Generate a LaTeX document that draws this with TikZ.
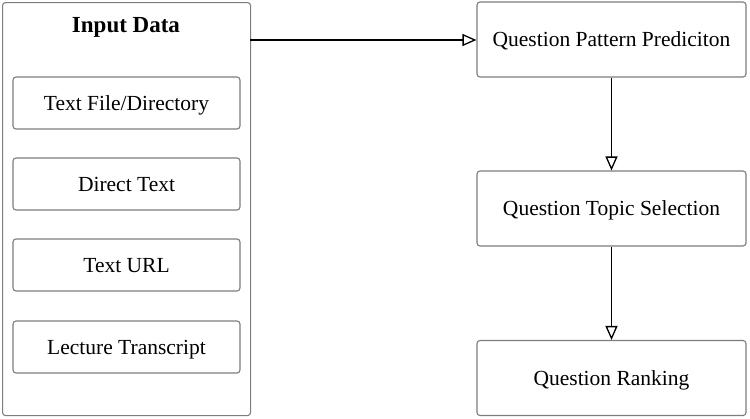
\documentclass[tikz,border=0pt]{standalone}
\usepackage{fontspec}
\setmainfont{Liberation Serif}
\usetikzlibrary{arrows.meta}
\definecolor{bordergray}{RGB}{125,125,125}
\tikzset{
  box/.style={draw=bordergray, line width=1.1pt, rounded corners=3pt, fill=white},
  lbl/.style={font=\fontsize{21.5}{24}\selectfont, text=black, text height=18pt, text depth=4pt},
  conn/.style={draw=black, line width=1.5pt, -{Triangle[open, length=14pt, width=12pt, line width=1.3pt]}}
}
\begin{document}
\begin{tikzpicture}[x=1pt, y=-1pt]
\useasboundingbox (0,0) rectangle (750,418);
% outer container
\node[box, minimum width=248pt, minimum height=413pt, anchor=north west, inner sep=0pt] (input) at (2,2) {};
\node[font=\bfseries\fontsize{23}{26}\selectfont] (title) at (126,27.5) {Input Data};
\node[box, lbl, minimum width=227pt, minimum height=52pt, inner sep=0pt] (f1) at (126.5,103) {Text File/Directory};
\node[box, lbl, minimum width=227pt, minimum height=52pt, inner sep=0pt] (f2) at (126.5,184) {Direct Text};
\node[box, lbl, minimum width=227pt, minimum height=52pt, inner sep=0pt] (f3) at (126.5,265) {Text URL};
\node[box, lbl, minimum width=227pt, minimum height=52pt, inner sep=0pt] (f4) at (126.5,347) {Lecture Transcript};
% right pipeline
\node[box, lbl, minimum width=269pt, minimum height=75pt, inner sep=0pt] (p1) at (611.5,39.5) {Question Pattern Prediciton};
\node[box, lbl, minimum width=269pt, minimum height=75pt, inner sep=0pt] (p2) at (611.5,208.5) {Question Topic Selection};
\node[box, lbl, minimum width=269pt, minimum height=75pt, inner sep=0pt] (p3) at (611.5,378) {Question Ranking};
% connectors
\coordinate (s1) at (250,40);
\draw[conn] (s1) -- (p1.west |- s1);
\draw[conn] (p1.south) -- (p2.north);
\draw[conn] (p2.south) -- (p3.north);
\end{tikzpicture}
\end{document}
